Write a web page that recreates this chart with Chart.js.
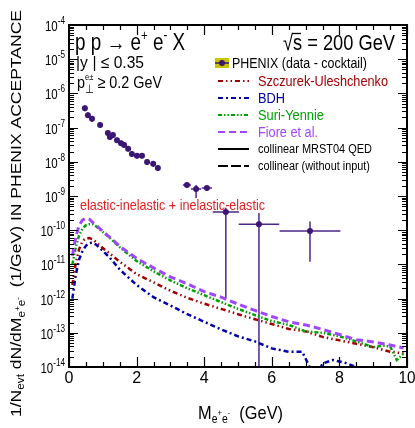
<!DOCTYPE html>
<html>
<head>
<meta charset="utf-8">
<script src="https://cdn.jsdelivr.net/npm/chart.js@4.4.0/dist/chart.umd.min.js"></script>
<style>
  html, body { margin: 0; padding: 0; background: #fff; }
  #wrap { width: 415px; height: 428px; }
</style>
</head>
<body>
<div id="wrap"><canvas id="grafico" width="415" height="428"></canvas></div>
<script>
// ================================
// DATOS
// ================================
// PHENIX (data - cocktail)
const phenixM   = [0.47, 0.56, 0.68, 0.92, 1.15, 1.21, 1.30, 1.42, 1.54, 1.63, 1.75, 1.86, 2.01, 2.16, 2.31, 2.49, 2.63, 3.49, 3.76, 4.08, 4.64, 5.62, 7.13];
const phenixVal = [3.7e-7, 2.3e-7, 1.8e-7, 1.2e-7, 6.9e-8, 5.3e-8, 6.1e-8, 4.3e-8, 3.5e-8, 3.1e-8, 2.4e-8, 1.7e-8, 1.5e-8, 1.5e-8, 9.8e-9, 8.7e-9, 6.6e-9, 2.1e-9, 1.6e-9, 1.7e-9, 3.4e-10, 1.5e-10, 9.5e-11];
const phenixMerr = [0.03, 0.03, 0.03, 0.03, 0.03, 0.03, 0.03, 0.03, 0.03, 0.03, 0.03, 0.03, 0.03, 0.03, 0.03, 0.03, 0.03, 0.12, 0.15, 0.15, 0.39, 0.6, 0.9];
const phenixLo  = [3.0e-7, 1.9e-7, 1.45e-7, 1.0e-7, 5.7e-8, 4.4e-8, 5.0e-8, 3.6e-8, 2.9e-8, 2.6e-8, 2.0e-8, 1.4e-8, 1.25e-8, 1.25e-8, 8.0e-9, 7.1e-9, 5.4e-9, 1.8e-9, 8.7e-10, 1.4e-9, 1.05e-12, 1e-15, 1.2e-11];
const phenixHi  = [4.5e-7, 2.8e-7, 2.2e-7, 1.45e-7, 8.3e-8, 6.4e-8, 7.3e-8, 5.2e-8, 4.2e-8, 3.7e-8, 2.9e-8, 2.05e-8, 1.8e-8, 1.8e-8, 1.2e-8, 1.05e-8, 8.0e-9, 2.45e-9, 2.1e-9, 2.0e-9, 4.5e-10, 3.2e-10, 1.8e-10];

// Fiore et al.
const fioreM   = [0.1, 0.2, 0.3, 0.4, 0.5, 0.6, 0.7, 0.8, 1.0, 1.2, 1.5, 2.0, 2.5, 3.0, 3.5, 4.0, 4.5, 5.0, 5.5, 6.0, 6.5, 7.0, 7.5, 8.0, 8.5, 9.0, 9.5, 9.9];
const fioreVal = [1.8e-11, 6.3e-11, 1.4e-10, 2.0e-10, 2.2e-10, 2.1e-10, 1.7e-10, 1.4e-10, 9.3e-11, 6.3e-11, 3.4e-11, 1.5e-11, 7.9e-12, 4.3e-12, 2.7e-12, 1.6e-12, 1.1e-12, 6.9e-13, 4.5e-13, 3.0e-13, 2.1e-13, 1.7e-13, 1.26e-13, 8.9e-14, 6.3e-14, 5.4e-14, 4.4e-14, 3.6e-14];

// Suri-Yennie
const suriM   = [0.1, 0.2, 0.3, 0.4, 0.5, 0.6, 0.7, 0.8, 1.0, 1.2, 1.5, 2.0, 2.5, 3.0, 3.5, 4.0, 4.5, 5.0, 5.5, 6.0, 6.5, 7.0, 7.5, 8.0, 8.5, 9.0, 9.3, 9.5, 9.7, 9.9];
const suriVal = [1.0e-11, 3.2e-11, 7.1e-11, 1.1e-10, 1.4e-10, 1.5e-10, 1.5e-10, 1.3e-10, 8.9e-11, 6.0e-11, 3.2e-11, 1.26e-11, 6.3e-12, 3.4e-12, 2.0e-12, 1.26e-12, 7.9e-13, 5.0e-13, 3.3e-13, 2.2e-13, 1.7e-13, 1.1e-13, 1.0e-13, 7.9e-14, 5.6e-14, 3.8e-14, 4.2e-14, 4.0e-14, 1.6e-14, 2.5e-14];

// Szczurek-Uleshchenko
const szczM   = [0.1, 0.2, 0.3, 0.4, 0.5, 0.6, 0.7, 0.8, 1.0, 1.2, 1.5, 2.0, 2.5, 3.0, 3.5, 4.0, 4.5, 5.0, 5.5, 6.0, 6.5, 7.0, 7.5, 8.0, 8.5, 9.0, 9.5, 9.9];
const szczVal = [2.5e-12, 1.1e-11, 2.8e-11, 4.8e-11, 5.8e-11, 5.9e-11, 5.4e-11, 4.5e-11, 3.0e-11, 2.1e-11, 1.2e-11, 5.2e-12, 3.0e-12, 1.7e-12, 1.05e-12, 7.1e-13, 5.0e-13, 3.5e-13, 2.5e-13, 1.8e-13, 1.3e-13, 1.1e-13, 7.6e-14, 6.0e-14, 4.8e-14, 3.8e-14, 2.8e-14, 2.5e-14];

// BDH
const bdhM   = [0.1, 0.2, 0.3, 0.4, 0.5, 0.6, 0.7, 0.8, 1.0, 1.2, 1.5, 2.0, 2.5, 3.0, 3.5, 4.0, 4.5, 5.0, 5.5, 6.0, 6.5, 6.9, 7.1, 7.3, 7.5, 7.8, 8.2, 8.5, 8.6];
const bdhVal = [1.0e-12, 5.0e-12, 1.4e-11, 2.5e-11, 3.5e-11, 4.2e-11, 4.3e-11, 3.8e-11, 2.5e-11, 1.6e-11, 7.1e-12, 2.5e-12, 1.1e-12, 6.3e-13, 3.5e-13, 2.1e-13, 1.26e-13, 7.9e-14, 5.6e-14, 3.5e-14, 2.8e-14, 2.8e-14, 1.1e-14, 5.0e-15, 1.26e-14, 1.6e-14, 1.3e-14, 1.0e-14, 5.0e-15];

// Ejes
const xTicks = [0, 2, 4, 6, 8, 10];
const yExps  = [-14, -13, -12, -11, -10, -9, -8, -7, -6, -5, -4];

// ================================
// ESTILOS
// ================================
const FONT = '"Liberation Sans", Arial, sans-serif';
const C_PHENIX = "#3b1672";
const C_SZCZ = "#a00000";
const C_BDH = "#0000a8";
const C_SURI = "#00a000";
const C_FIORE = "#a046ff";

const DASH_SZCZ = [5, 3, 1.5, 3, 1.5, 3];
const DASH_BDH = [5, 3, 2, 3];
const DASH_SURI = [4, 2, 1.5, 2, 1.5, 2];
const DASH_FIORE = [7, 4];

const pts = (ms, vs) => ms.map((m, i) => ({ x: m, y: vs[i] }));

// texto con sub/superíndices: segs = [texto, tamaño, dy, sinAvance]
function anchoRich(ctx, segs) {
  let w = 0;
  segs.forEach((s) => {
    ctx.font = s[1] + "px " + FONT;
    if (!s[3]) w += ctx.measureText(s[0]).width;
  });
  return w;
}
function drawRich(ctx, segs, x, y, ancho, color) {
  const w = anchoRich(ctx, segs);
  const k = ancho ? ancho / w : 1;
  ctx.save();
  ctx.translate(x, y);
  ctx.scale(k, 1);
  ctx.fillStyle = color || "#000";
  ctx.textAlign = "left";
  ctx.textBaseline = "alphabetic";
  let cx = 0;
  segs.forEach((s) => {
    ctx.font = s[1] + "px " + FONT;
    ctx.fillText(s[0], cx, s[2] || 0);
    if (!s[3]) cx += ctx.measureText(s[0]).width;
  });
  ctx.restore();
}

// ================================
// PLUGIN: barras de error
// ================================
const errorBars = {
  id: "errorBars",
  beforeDatasetsDraw(chart) {
    const { ctx, chartArea: a, scales: { x, y } } = chart;
    ctx.save();
    ctx.beginPath();
    ctx.rect(a.left, a.top, a.right - a.left, a.bottom - a.top);
    ctx.clip();
    ctx.strokeStyle = "#4a2888";
    ctx.lineWidth = 1.5;
    phenixM.forEach((m, i) => {
      const px = x.getPixelForValue(m);
      const py = y.getPixelForValue(phenixVal[i]);
      ctx.beginPath();
      ctx.moveTo(x.getPixelForValue(m - phenixMerr[i]), py);
      ctx.lineTo(x.getPixelForValue(m + phenixMerr[i]), py);
      ctx.moveTo(px, y.getPixelForValue(phenixHi[i]));
      ctx.lineTo(px, Math.min(y.getPixelForValue(phenixLo[i]), a.bottom + 5));
      ctx.stroke();
    });
    ctx.restore();
  },
};

// ================================
// PLUGIN: marco, ejes, textos, leyenda
// ================================
const decoracion = {
  id: "decoracion",
  afterDraw(chart) {
    const { ctx, chartArea: a, scales: { x, y } } = chart;
    ctx.save();

    // === TICKS ===
    ctx.strokeStyle = "#000";
    ctx.lineWidth = 1.2;
    ctx.beginPath();
    yExps.forEach((e, i) => {
      const py = Math.round(y.getPixelForValue(Math.pow(10, e))) + 0.5;
      ctx.moveTo(a.left, py); ctx.lineTo(a.left + 9, py);
      ctx.moveTo(a.right, py); ctx.lineTo(a.right - 9, py);
      if (i < yExps.length - 1) {
        for (let k = 2; k <= 9; k++) {
          const pm = Math.round(y.getPixelForValue(k * Math.pow(10, e))) + 0.5;
          ctx.moveTo(a.left, pm); ctx.lineTo(a.left + 5, pm);
          ctx.moveTo(a.right, pm); ctx.lineTo(a.right - 5, pm);
        }
      }
    });
    const xMin = xTicks[0], xMax = xTicks[xTicks.length - 1];
    for (let v = xMin; v <= xMax + 1e-9; v += 0.5) {
      const px = Math.round(x.getPixelForValue(v)) + 0.5;
      const len = xTicks.includes(v) ? 10 : 5;
      ctx.moveTo(px, a.bottom); ctx.lineTo(px, a.bottom - len);
      ctx.moveTo(px, a.top); ctx.lineTo(px, a.top + len);
    }
    ctx.stroke();

    // === MARCO ===
    ctx.lineWidth = 2;
    ctx.strokeRect(a.left, a.top, a.right - a.left, a.bottom - a.top);

    // === ETIQUETAS EJE Y ===
    yExps.forEach((e) => {
      const py = y.getPixelForValue(Math.pow(10, e));
      const segs = [["10", 14, 0], [String(e), 10, -7]];
      const w = anchoRich(ctx, segs) * 0.82;
      drawRich(ctx, segs, 65 - w, py + 6, w);
    });

    // === ETIQUETAS EJE X ===
    ctx.fillStyle = "#000";
    ctx.font = "16px " + FONT;
    ctx.textAlign = "center";
    xTicks.forEach((v) => {
      ctx.fillText(String(v), x.getPixelForValue(v), a.bottom + 16, 17);
    });

    // === TÍTULO EJE X ===
    drawRich(ctx, [["M", 19, 0], ["e", 12, 4], ["+", 9, -3], ["e", 12, 4], ["-", 9, -3], ["  (GeV)", 19, 0]], 198, 419, 85);

    // === TÍTULO EJE Y ===
    ctx.save();
    ctx.translate(21, 417);
    ctx.rotate(-Math.PI / 2);
    drawRich(ctx, [["1/N", 15, 0], ["evt", 10, 3], [" dN/dM", 15, 0], ["e", 10, 4], ["+", 7, -1], ["e", 10, 4], ["-", 7, -1],
      ["  (1/GeV) IN PHENIX ACCEPTANCE", 15, 0]], 0, 0, 407);
    ctx.restore();

    // === TEXTOS ===
    drawRich(ctx, [["p p \u2192 e", 23, 0], ["+", 14, -10], [" e", 23, 0], ["-", 14, -10], [" X", 23, 0]], 75, 50, 110);
    drawRich(ctx, [["\u221As = 200 GeV", 22, 0]], 283, 50, 112);
    ctx.strokeStyle = "#000";
    ctx.lineWidth = 1.3;
    ctx.beginPath(); ctx.moveTo(292, 33.5); ctx.lineTo(301, 33.5); ctx.stroke();
    drawRich(ctx, [["|y", 17, 0], ["  ", 9, 0], ["| \u2264 0.35", 17, 0]], 76, 68, 68);
    drawRich(ctx, [["p", 17, 0], ["\u22A5", 12, 5, true], ["e\u00B1", 9, -8], [" \u2265 0.2 GeV", 17, 0]], 77, 88, 85);
    drawRich(ctx, [["elastic-inelastic + inelastic-elastic", 15, 0]], 80, 210, 185, "#e01e1e");

    // === LEYENDA ===
    const lx1 = 218, lx2 = 249, tx = 258;
    // PHENIX
    ctx.fillStyle = "#c8c400";
    ctx.fillRect(215, 58, 14, 10);
    ctx.strokeStyle = C_PHENIX;
    ctx.lineWidth = 1.5;
    ctx.beginPath(); ctx.moveTo(215, 63); ctx.lineTo(229, 63); ctx.stroke();
    ctx.fillStyle = C_PHENIX;
    ctx.beginPath(); ctx.arc(222, 63, 3, 0, 2 * Math.PI); ctx.fill();
    drawRich(ctx, [["PHENIX (data - cocktail)", 14, 0]], 232, 68, 135);

    const filas = [
      ["Szczurek-Uleshchenko", C_SZCZ, DASH_SZCZ, 81, 130],
      ["BDH", C_BDH, DASH_BDH, 98, 27],
      ["Suri-Yennie", C_SURI, DASH_SURI, 115, 66],
      ["Fiore et al.", C_FIORE, DASH_FIORE, 132, 60],
    ];
    filas.forEach(([txt, col, dash, cy, w]) => {
      ctx.strokeStyle = col;
      ctx.lineWidth = 2;
      ctx.setLineDash(dash);
      ctx.beginPath(); ctx.moveTo(lx1, cy); ctx.lineTo(lx2, cy); ctx.stroke();
      ctx.setLineDash([]);
      drawRich(ctx, [[txt, 14, 0]], tx, cy + 5, w, col);
    });
    ctx.strokeStyle = "#000";
    ctx.lineWidth = 2;
    ctx.beginPath(); ctx.moveTo(lx1, 149); ctx.lineTo(lx2, 149); ctx.stroke();
    drawRich(ctx, [["collinear MRST04 QED", 12, 0]], tx, 153, 114);
    ctx.setLineDash([10, 3]);
    ctx.beginPath(); ctx.moveTo(lx1, 166); ctx.lineTo(lx2, 166); ctx.stroke();
    ctx.setLineDash([]);
    drawRich(ctx, [["collinear (without input)", 12, 0]], tx, 170, 112);

    ctx.restore();
  },
};

// ================================
// GRÁFICO
// ================================
const linea = (label, ms, vs, color, dash, ancho) => ({
  label,
  data: pts(ms, vs),
  showLine: true,
  borderColor: color,
  borderDash: dash,
  borderWidth: ancho,
  pointRadius: 0,
  fill: false,
  tension: 0,
});

new Chart(document.getElementById("grafico"), {
  type: "scatter",
  data: {
    datasets: [
      linea("Fiore et al.", fioreM, fioreVal, C_FIORE, DASH_FIORE, 3),
      linea("Suri-Yennie", suriM, suriVal, C_SURI, DASH_SURI, 2.5),
      linea("Szczurek-Uleshchenko", szczM, szczVal, C_SZCZ, DASH_SZCZ, 2.5),
      linea("BDH", bdhM, bdhVal, C_BDH, DASH_BDH, 2.5),
      {
        label: "PHENIX (data - cocktail)",
        data: pts(phenixM, phenixVal),
        pointRadius: 3,
        pointBackgroundColor: C_PHENIX,
        pointBorderWidth: 0,
        showLine: false,
      },
    ],
  },
  options: {
    responsive: false,
    animation: false,
    devicePixelRatio: 1,
    layout: { padding: { left: 69, top: 25, right: 8, bottom: 61 } },
    scales: {
      x: { type: "linear", min: xTicks[0], max: xTicks[xTicks.length - 1], display: false },
      y: { type: "logarithmic", min: Math.pow(10, yExps[0]), max: Math.pow(10, yExps[yExps.length - 1]), display: false },
    },
    plugins: { legend: { display: false }, tooltip: { enabled: false } },
  },
  plugins: [errorBars, decoracion],
});
</script>
</body>
</html>
